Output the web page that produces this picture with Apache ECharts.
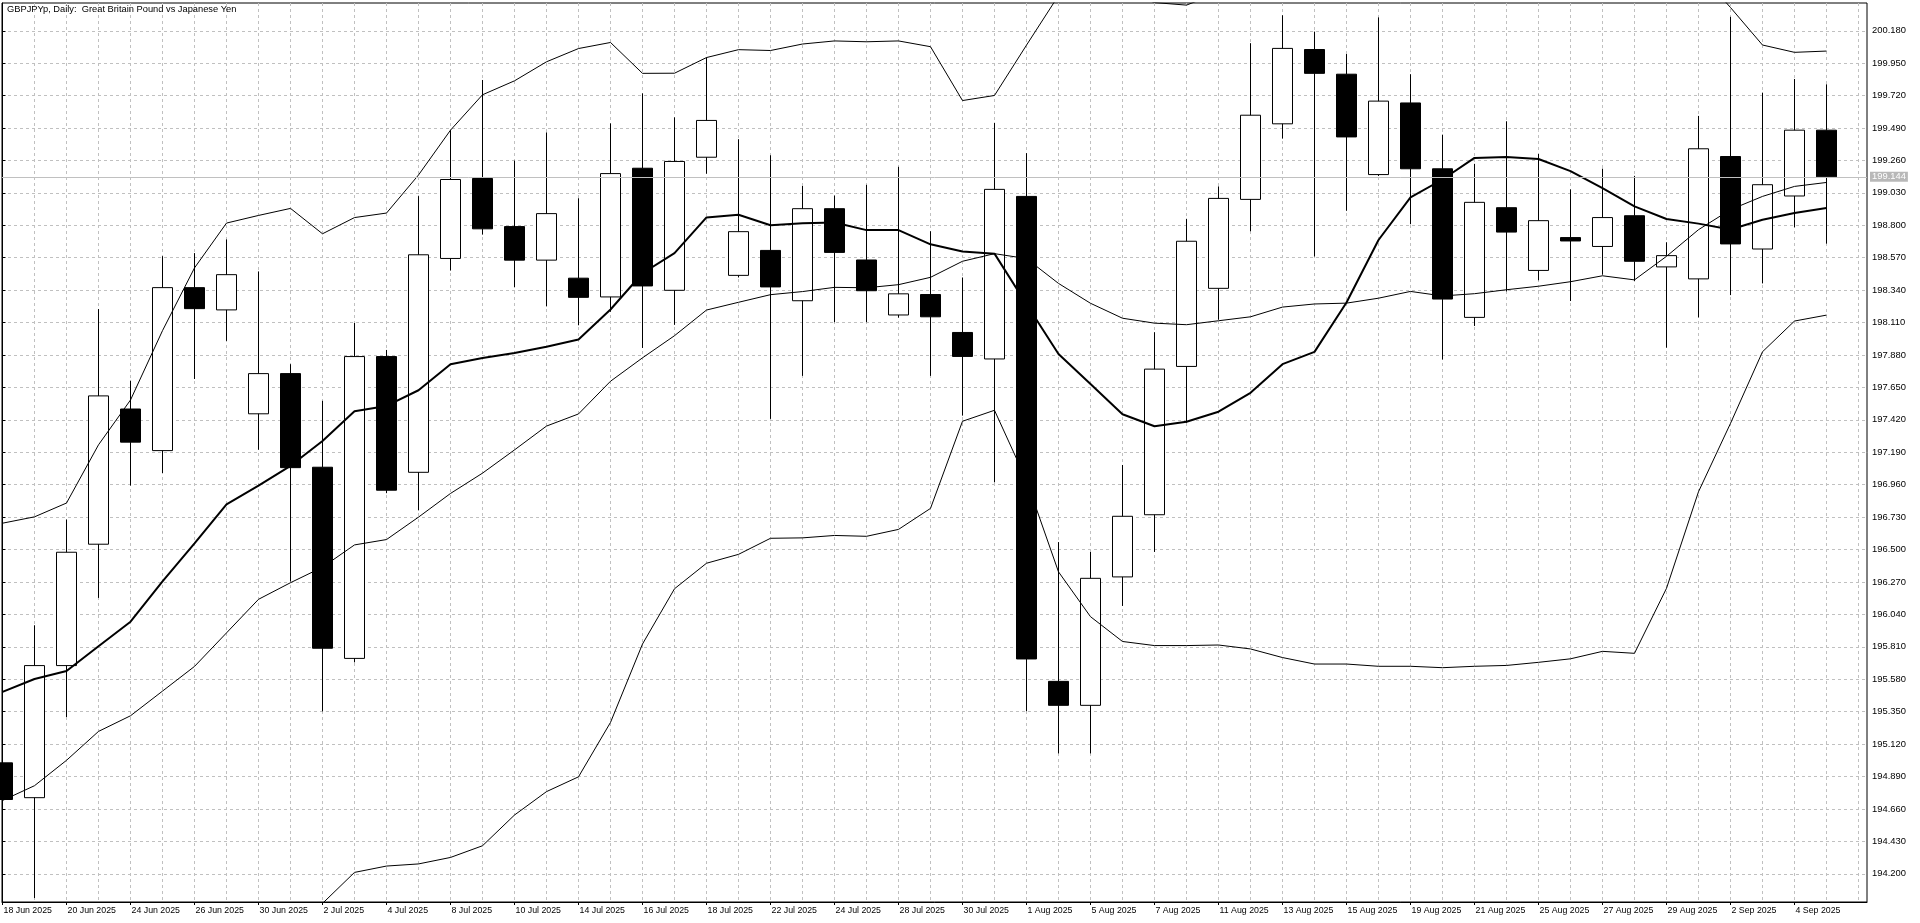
<!DOCTYPE html>
<html>
<head>
<meta charset="utf-8">
<title>GBPJPYp, Daily</title>
<script src="https://cdn.jsdelivr.net/npm/echarts@6/dist/echarts.min.js"></script>
<style>
  html, body { margin: 0; padding: 0; background: #fff; }
  #chart { width: 1920px; height: 923px; }
</style>
</head>
<body>
<div id="chart"></div>
<script>
// daily bars, 18 Jun 2025 .. 5 Sep 2025
const dates = [
  '18 Jun 2025', '19 Jun 2025', '20 Jun 2025', '23 Jun 2025', '24 Jun 2025', '25 Jun 2025', '26 Jun 2025', '27 Jun 2025', '30 Jun 2025',
  '1 Jul 2025', '2 Jul 2025', '3 Jul 2025', '4 Jul 2025', '7 Jul 2025', '8 Jul 2025', '9 Jul 2025', '10 Jul 2025', '11 Jul 2025',
  '14 Jul 2025', '15 Jul 2025', '16 Jul 2025', '17 Jul 2025', '18 Jul 2025', '21 Jul 2025', '22 Jul 2025', '23 Jul 2025', '24 Jul 2025',
  '25 Jul 2025', '28 Jul 2025', '29 Jul 2025', '30 Jul 2025', '31 Jul 2025',
  '1 Aug 2025', '4 Aug 2025', '5 Aug 2025', '6 Aug 2025', '7 Aug 2025', '8 Aug 2025', '11 Aug 2025', '12 Aug 2025', '13 Aug 2025',
  '14 Aug 2025', '15 Aug 2025', '18 Aug 2025', '19 Aug 2025', '20 Aug 2025', '21 Aug 2025', '22 Aug 2025', '25 Aug 2025', '26 Aug 2025',
  '27 Aug 2025', '28 Aug 2025', '29 Aug 2025',
  '1 Sep 2025', '2 Sep 2025', '3 Sep 2025', '4 Sep 2025', '5 Sep 2025'
];

const open = [
  194.987, 194.740, 195.677, 196.538, 197.497, 197.202, 198.358, 198.200, 197.463, 197.748,
  197.084, 195.728, 197.869, 197.048, 198.565, 199.132, 198.791, 198.553, 198.425, 198.292,
  199.205, 198.339, 199.283, 198.445, 198.622, 198.265, 198.918, 198.554, 198.164, 198.309,
  198.040, 197.852, 199.005, 195.565, 195.395, 196.306, 196.747, 197.799, 198.353, 198.984,
  199.520, 200.047, 199.872, 199.160, 199.668, 199.201, 198.147, 198.925, 198.480, 198.713,
  198.650, 198.868, 198.505, 198.420, 199.288, 198.632, 199.008, 199.475
];
const high = [
  195.050, 195.963, 196.713, 198.206, 197.698, 198.581, 198.603, 198.700, 198.473, 197.815,
  197.555, 198.107, 197.916, 199.007, 199.475, 199.831, 199.259, 199.459, 198.992, 199.523,
  199.736, 199.566, 199.991, 199.411, 199.297, 199.079, 199.011, 199.087, 199.215, 198.758,
  198.430, 199.527, 199.312, 196.553, 196.483, 197.100, 198.042, 198.846, 199.076, 200.092,
  200.290, 200.174, 200.015, 200.275, 199.872, 199.443, 199.236, 199.538, 199.306, 199.055,
  199.202, 199.151, 198.680, 199.576, 200.279, 199.741, 199.838, 199.800
];
const low = [
  194.680, 194.028, 195.312, 196.157, 196.954, 197.043, 197.710, 197.980, 197.208, 196.274,
  195.352, 195.700, 196.900, 196.778, 198.479, 198.734, 198.362, 198.225, 198.091, 198.187,
  197.930, 198.094, 199.166, 198.430, 197.427, 197.732, 198.113, 198.113, 198.145, 197.732,
  197.450, 196.977, 195.354, 195.054, 195.054, 196.100, 196.483, 197.399, 198.130, 198.758,
  199.415, 198.579, 198.903, 199.150, 198.808, 197.848, 198.086, 198.331, 198.410, 198.263,
  198.450, 198.405, 197.932, 198.147, 198.305, 198.388, 198.786, 198.670
];
const close = [
  194.727, 195.677, 196.481, 197.590, 197.262, 198.358, 198.209, 198.450, 197.748, 197.081,
  195.800, 197.869, 196.921, 198.591, 199.125, 198.775, 198.553, 198.883, 198.289, 199.167,
  198.370, 199.253, 199.544, 198.755, 198.363, 198.918, 198.608, 198.336, 198.314, 198.151,
  197.870, 199.055, 195.724, 195.395, 196.296, 196.736, 197.780, 198.687, 198.991, 199.581,
  200.055, 199.878, 199.427, 199.681, 199.201, 198.277, 198.963, 198.752, 198.833, 198.689,
  198.855, 198.545, 198.585, 199.343, 198.668, 199.088, 199.475, 199.144
];

// thick moving average
const maFast = [
  195.490, 195.582, 195.639, 195.814, 195.988, 196.274, 196.544, 196.821, 196.954, 197.094,
  197.270, 197.481, 197.519, 197.630, 197.815, 197.859, 197.894, 197.939, 197.990, 198.203,
  198.460, 198.603, 198.856, 198.875, 198.801, 198.815, 198.820, 198.766, 198.766, 198.665,
  198.614, 198.599, 198.240, 197.887, 197.675, 197.460, 197.375, 197.407, 197.478, 197.612,
  197.815, 197.902, 198.252, 198.696, 198.998, 199.125, 199.278, 199.285, 199.270, 199.184,
  199.063, 198.934, 198.845, 198.812, 198.770, 198.840, 198.887, 198.923
];

// bollinger bands (upper / middle / lower), values past the frame are estimates
const bandUpper = [
  196.687, 196.732, 196.830, 197.243, 197.561, 198.053, 198.498, 198.816, 198.870, 198.920,
  198.740, 198.855, 198.887, 199.157, 199.475, 199.726, 199.825, 199.960, 200.054, 200.097,
  199.878, 199.879, 199.990, 200.046, 200.040, 200.086, 200.108, 200.102, 200.108, 200.067,
  199.685, 199.721, 200.078, 200.430, 200.520, 200.460, 200.380, 200.362, 200.450, 200.620,
  200.800, 200.900, 200.950, 201.000, 201.000, 200.950, 200.850, 200.800, 200.750, 200.700,
  200.650, 200.600, 200.550, 200.600, 200.345, 200.079, 200.027, 200.036
];
const bandMiddle = [
  194.720, 194.825, 195.005, 195.210, 195.321, 195.496, 195.671, 195.909, 196.147, 196.265,
  196.375, 196.533, 196.571, 196.730, 196.898, 197.042, 197.207, 197.376, 197.462, 197.694,
  197.860, 198.017, 198.199, 198.254, 198.308, 198.330, 198.360, 198.357, 198.379, 198.431,
  198.545, 198.599, 198.564, 198.388, 198.247, 198.141, 198.106, 198.095, 198.123, 198.151,
  198.220, 198.242, 198.248, 198.283, 198.331, 198.299, 198.315, 198.343, 198.368, 198.400,
  198.442, 198.413, 198.580, 198.769, 198.911, 199.005, 199.076, 199.104
];
const bandLower = [
  192.900, 192.950, 193.150, 193.200, 193.100, 192.950, 192.850, 193.000, 193.400, 193.600,
  193.990, 194.210, 194.255, 194.270, 194.316, 194.399, 194.617, 194.783, 194.888, 195.274,
  195.830, 196.222, 196.403, 196.466, 196.580, 196.583, 196.600, 196.594, 196.643, 196.792,
  197.410, 197.488, 196.990, 196.342, 196.024, 195.848, 195.819, 195.819, 195.823, 195.795,
  195.734, 195.688, 195.688, 195.672, 195.672, 195.662, 195.672, 195.678, 195.700, 195.725,
  195.778, 195.764, 196.225, 196.910, 197.395, 197.903, 198.121, 198.163
];

// price scale labels on the right
const priceTicks = [
  194.200, 194.430, 194.660, 194.890, 195.120, 195.350, 195.580, 195.810, 196.040,
  196.270, 196.500, 196.730, 196.960, 197.190, 197.420, 197.650, 197.880, 198.110,
  198.340, 198.570, 198.800, 199.030, 199.260, 199.490, 199.720, 199.950, 200.180
];

const FONT = 'Liberation Sans';
const GRID_LINE = { color: '#c0c0c0', width: 1, type: [3, 3] };

// x is the bar index; 32px per bar, first bar sits half a pixel inside the frame
const xMin = -0.016;
const xMax = 58.266;
const barSteps = Array.from({ length: 59 }, (_, i) => i);
const labelSteps = dates.map((_, i) => i).filter((i) => i % 2 === 0);
const lastPrice = close[close.length - 1];

const chart = echarts.init(document.getElementById('chart'));

const pairs = (arr) => arr.map((v, i) => [i, v]);

const lineSeries = (name, data, width) => ({
  name,
  type: 'line',
  data: pairs(data),
  showSymbol: false,
  symbol: 'none',
  z: 3,
  lineStyle: { color: '#000', width },
  emphasis: { disabled: true },
});

const option = {
  animation: false,
  backgroundColor: '#fff',
  grid: {
    left: 2,
    right: 53,
    top: 3,
    bottom: 21,
    show: true,
    borderColor: '#000',
    borderWidth: 1,
  },
  graphic: [
    {
      type: 'text',
      left: 7,
      top: 5,
      z: 10,
      style: {
        text: 'GBPJPYp, Daily:  Great Britain Pound vs Japanese Yen',
        font: '9.3px "' + FONT + '"',
        fill: '#000',
      },
    },
  ],
  xAxis: [
    {
      // vertical grid line on every bar
      type: 'value',
      min: xMin,
      max: xMax,
      axisLine: { show: true, onZero: false, lineStyle: { color: '#000', width: 1 } },
      axisTick: { show: false, customValues: barSteps },
      axisLabel: { show: false },
      splitLine: { show: true, lineStyle: GRID_LINE },
    },
    {
      // date labels every second bar
      type: 'value',
      position: 'bottom',
      min: xMin,
      max: xMax,
      axisLine: { show: false, onZero: false },
      axisTick: { show: true, customValues: labelSteps, length: 3, lineStyle: { color: '#000' } },
      axisLabel: {
        customValues: labelSteps,
        formatter: (v) => dates[Math.round(v)],
        align: 'left',
        margin: 4,
        padding: [0, 0, 0, 1],
        color: '#000',
        fontFamily: FONT,
        fontSize: 8.8,
      },
      splitLine: { show: false },
    },
  ],
  yAxis: [
    {
      type: 'value',
      position: 'right',
      min: 194.0,
      max: 200.377,
      axisLine: { show: true, lineStyle: { color: '#000', width: 1 } },
      axisTick: { show: true, customValues: priceTicks, length: 3, lineStyle: { color: '#000' } },
      axisLabel: {
        customValues: priceTicks,
        formatter: (v) => v.toFixed(3),
        margin: 5,
        color: '#000',
        fontFamily: FONT,
        fontSize: 9.4,
      },
      splitLine: { show: true, lineStyle: GRID_LINE },
    },
    {
      // overlay axis carrying only the last-price box
      type: 'value',
      position: 'right',
      min: 194.0,
      max: 200.377,
      axisLine: { show: false },
      axisTick: { show: false },
      splitLine: { show: false },
      axisLabel: {
        customValues: [lastPrice],
        formatter: (v) => v.toFixed(3),
        margin: 3,
        color: '#fff',
        backgroundColor: '#b8b8b8',
        padding: [1, 2, 0, 2],
        fontFamily: FONT,
        fontSize: 9.4,
      },
    },
  ],
  series: [
    {
      name: 'GBPJPYp',
      type: 'candlestick',
      data: dates.map((_, i) => [i, open[i], close[i], low[i], high[i]]),
      encode: { x: 0, y: [1, 2, 3, 4] },
      barWidth: 21,
      z: 2,
      itemStyle: {
        color: '#fff',
        color0: '#000',
        borderColor: '#000',
        borderColor0: '#000',
        borderWidth: 1,
      },
      emphasis: { disabled: true },
      // last price line across the plot
      markLine: {
        silent: true,
        animation: false,
        symbol: ['none', 'none'],
        lineStyle: { color: '#c0c0c0', type: 'solid', width: 1 },
        label: { show: false },
        data: [{ yAxis: lastPrice }],
      },
    },
    lineSeries('Upper band', bandUpper, 1),
    lineSeries('Middle band', bandMiddle, 1),
    lineSeries('Lower band', bandLower, 1),
    lineSeries('MA', maFast, 2),
  ],
};

chart.setOption(option);
</script>
</body>
</html>
